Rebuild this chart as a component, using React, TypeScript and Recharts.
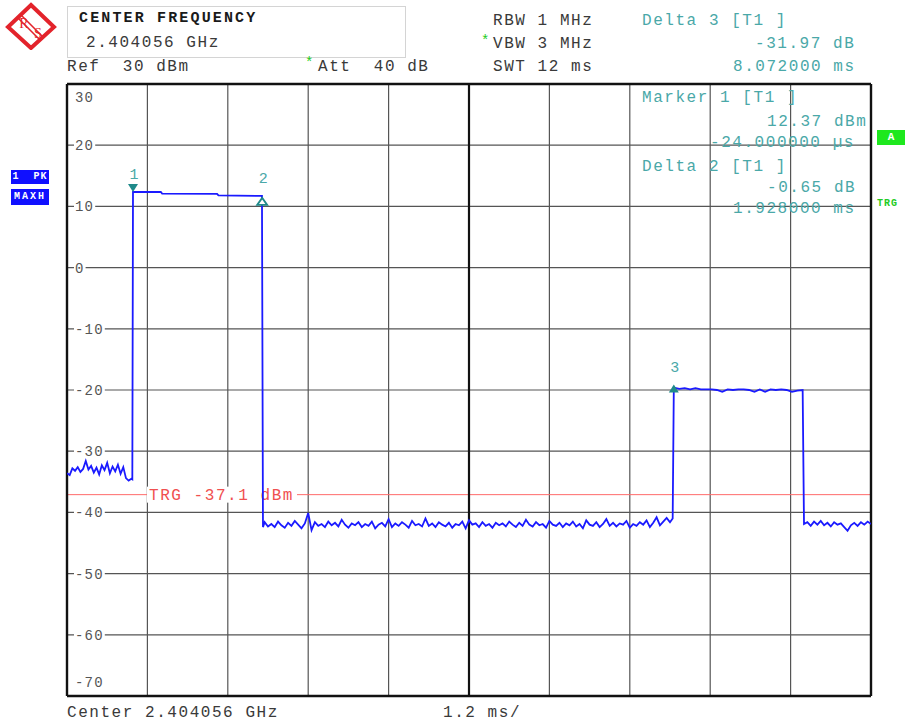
import React from 'react';
import { LineChart, Line, XAxis, YAxis, CartesianGrid, ReferenceLine, ReferenceDot } from 'recharts';

// ---- axes ----
const X_TICKS_MS = [0, 1.2, 2.4, 3.6, 4.8, 6, 7.2, 8.4, 9.6, 10.8, 12];
const Y_TICKS_DBM = [-70, -60, -50, -40, -30, -20, -10, 0, 10, 20, 30];

// ---- trace segments (time in ms, level in dBm) ----
const PRE_NOISE_START = 0;
const PRE_NOISE_STEP = 0.04;
const preTriggerNoise = [
  -33.6, -33.9, -32.8, -33.2, -32.6, -33.4, -32.9, -31.6, -33.0, -32.4,
  -33.5, -32.7, -33.8, -32.3, -33.1, -31.9, -33.6, -32.5, -33.3, -32.2,
  -33.7, -32.6, -34.4, -34.8, -34.5,
];

const burst1: [number, number][] = [
  [0.975, -34.6], [0.985, 12.37], [1.4, 12.35], [1.42, 12.1], [2.24, 12.05],
  [2.26, 11.8], [2.91, 11.72], [2.925, -42.4],
];

const FLOOR1_START = 2.95;
const FLOOR1_STEP = 0.05;
const floorNoise1 = [
  -41.6, -42.3, -41.9, -42.4, -41.5, -42.1, -42.5, -41.7, -42.2, -41.4,
  -42.0, -42.6, -41.8, -40.1, -42.9, -41.6, -42.2, -41.9, -42.4, -41.5,
  -42.1, -41.7, -42.3, -41.2, -42.0, -42.5, -41.8, -42.1, -41.6, -42.4,
  -41.9, -42.2, -41.5, -42.6, -42.0, -41.7, -42.3, -41.1, -42.4, -41.8,
  -42.2, -41.6, -42.0, -42.5, -41.4, -42.1, -41.9, -42.3, -41.0, -42.2,
  -41.8, -42.4, -41.6, -42.0, -42.3, -41.7, -42.5, -41.9, -42.1, -41.5,
  -42.6, -41.3, -42.0, -41.8, -42.4, -41.6, -42.2, -41.9, -42.5, -41.7,
  -42.1, -41.8, -42.3, -41.5, -42.0, -42.4, -41.7, -42.2, -41.2, -42.0,
  -42.3, -41.6, -42.1, -41.9, -42.5, -41.4, -42.0, -42.2, -41.7, -42.4,
  -41.8, -42.1, -41.5, -42.3, -41.9, -42.6, -41.3, -42.0, -42.2, -41.6,
  -42.4, -41.9, -41.1, -42.2, -41.7, -42.3, -41.8, -42.0, -41.4, -42.5,
  -41.9, -42.2, -41.6, -42.0, -41.3, -42.4, -41.7, -40.8, -42.1, -41.5,
  -40.9, -41.6,
];

const burst2Rise: [number, number][] = [[9.04, -41.0], [9.057, -19.6]];

const BURST2_START = 9.14;
const BURST2_STEP = 0.08;
const burst2Top = [
  -19.8, -19.7, -19.9, -19.7, -19.9, -19.9, -19.9, -20.0, -20.3, -19.9,
  -20.0, -19.9, -19.9, -20.0, -20.3, -19.9, -20.3, -19.9, -20.0, -19.9,
  -20.0, -20.3, -20.1, -20.0,
];

const FLOOR2_START = 11.0;
const FLOOR2_STEP = 0.05;
const floorNoise2 = [
  -41.9, -41.6, -42.2, -41.5, -42.0, -41.4, -42.1, -41.7, -42.3, -41.6,
  -42.0, -41.8, -42.4, -43.0, -42.1, -41.7, -42.2, -41.6, -42.0, -41.5,
  -41.9,
];

const TRIGGER_LEVEL = -37.1;

const markers = [
  { id: '1', t: 0.985, v: 12.37, kind: 'down' },
  { id: '2', t: 2.913, v: 11.72, kind: 'delta' },
  { id: '3', t: 9.057, v: -19.6, kind: 'up' },
];

const sampled = (start: number, step: number, vals: number[]) =>
  vals.map((v, i) => ({ t: +(start + i * step).toFixed(4), v }));
const pairs = (arr: [number, number][]) => arr.map(([t, v]) => ({ t, v }));

const trace = [
  ...sampled(PRE_NOISE_START, PRE_NOISE_STEP, preTriggerNoise),
  ...pairs(burst1),
  ...sampled(FLOOR1_START, FLOOR1_STEP, floorNoise1),
  ...pairs(burst2Rise),
  ...sampled(BURST2_START, BURST2_STEP, burst2Top),
  ...sampled(FLOOR2_START, FLOOR2_STEP, floorNoise2),
];

const MONO = '"Liberation Mono", "DejaVu Sans Mono", monospace';
const TEAL = '#4aa8a8';
const TEAL_DARK = '#1f8a8a';
const GRID = '#555';

const T = ({ x, y, children, color = '#3a3a3a', bold = false, size = 16, ls = 1.55 }: any) => (
  <div
    style={{
      position: 'absolute',
      left: x,
      top: y - 9,
      height: 18,
      lineHeight: '18px',
      fontFamily: MONO,
      fontSize: size,
      letterSpacing: ls,
      fontWeight: bold ? 'bold' : 'normal',
      color,
      whiteSpace: 'pre',
    }}
  >
    {children}
  </div>
);

const YTick = (props: any) => {
  const { x, y, payload } = props;
  const val = payload.value;
  let dy = 0;
  if (val === 30) dy = 13;
  if (val === -70) dy = -14;
  const label = String(val);
  const w = label.length * 9.6;
  return (
    <g>
      <rect x={x + 7} y={y + dy - 7} width={w + 2} height={14} fill="#fff" />
      <text
        x={x + 8}
        y={y + dy}
        dy="0.35em"
        fill="#555"
        fontFamily={MONO}
        fontSize={14}
        letterSpacing={1.2}
        textAnchor="start"
      >
        {label}
      </text>
    </g>
  );
};

const TrgLabel = (props: any) => {
  const vb = props.viewBox || {};
  const x = vb.x + 82;
  const y = vb.y;
  return (
    <g>
      <rect x={x - 2} y={y - 8} width={150} height={16} fill="#fff" />
      <text x={x} y={y} dy="0.35em" fill="#f05050" fontFamily={MONO} fontSize={16} letterSpacing={1.55}>
        TRG -37.1 dBm
      </text>
    </g>
  );
};

const markerShape = (kind: string, id: string) => (props: any) => {
  const { cx, cy } = props;
  let tri;
  if (kind === 'down') {
    tri = <polygon points={`${cx - 5},${cy - 8} ${cx + 5},${cy - 8} ${cx},${cy}`} fill={TEAL_DARK} />;
  } else if (kind === 'delta') {
    tri = (
      <polygon
        points={`${cx - 5},${cy + 9} ${cx + 5},${cy + 9} ${cx},${cy + 2}`}
        fill="#fff"
        stroke={TEAL_DARK}
        strokeWidth={1.8}
      />
    );
  } else {
    tri = <polygon points={`${cx - 5},${cy + 5} ${cx + 5},${cy + 5} ${cx},${cy - 3}`} fill={TEAL_DARK} />;
  }
  return (
    <g>
      {tri}
      <text
        x={cx + 1}
        y={cy - (kind === 'up' ? 21 : 18)}
        textAnchor="middle"
        dy="0.35em"
        fill={TEAL}
        fontFamily={MONO}
        fontSize={15}
      >
        {id}
      </text>
    </g>
  );
};

const Logo = () => (
  <svg width={52} height={48} style={{ position: 'absolute', left: 5, top: 2 }}>
    <polygon points="26,3 49,25 26,46 3,25" fill="#fff" stroke="#e3232b" strokeWidth={4} />
    <line x1={16} y1={13} x2={38} y2={35} stroke="#e3232b" strokeWidth={1.6} />
    <line x1={13} y1={16} x2={35} y2={38} stroke="#e3232b" strokeWidth={1.6} />
    <text x={19} y={26} fill="#e3232b" fontFamily="Liberation Serif" fontSize={14} textAnchor="middle">R</text>
    <text x={33} y={36} fill="#e3232b" fontFamily="Liberation Serif" fontSize={14} textAnchor="middle">S</text>
  </svg>
);

export default function App() {
  return (
    <div style={{ position: 'absolute', left: 0, top: 0, width: 910, height: 722, background: '#fff' }}>
      <LineChart
        width={910}
        height={722}
        data={trace}
        margin={{ top: 84, right: 39, bottom: 26, left: 7 }}
      >
        <XAxis
          dataKey="t"
          type="number"
          domain={[0, 12]}
          ticks={X_TICKS_MS}
          hide
          allowDataOverflow
        />
        <CartesianGrid stroke={GRID} strokeWidth={1.2} />
        <YAxis
          type="number"
          domain={[-70, 30]}
          ticks={Y_TICKS_DBM}
          width={60}
          axisLine={false}
          tickLine={false}
          tickSize={0}
          tickMargin={0}
          tick={YTick}
          interval={0}
          allowDataOverflow
        />
        <ReferenceLine y={TRIGGER_LEVEL} stroke="#ff6a6a" strokeWidth={1} label={<TrgLabel />} />
        <ReferenceLine x={6} stroke="#111" strokeWidth={2.2} />
        <ReferenceLine x={0} stroke="#111" strokeWidth={2.4} />
        <ReferenceLine x={12} stroke="#111" strokeWidth={2.4} />
        <ReferenceLine y={30} stroke="#111" strokeWidth={2.4} />
        <ReferenceLine y={-70} stroke="#111" strokeWidth={2.4} />
        <Line
          type="linear"
          dataKey="v"
          stroke="#1a1aff"
          strokeWidth={1.8}
          dot={false}
          isAnimationActive={false}
        />
        {markers.map((m) => (
          <ReferenceDot key={m.id} x={m.t} y={m.v} r={5} shape={markerShape(m.kind, m.id)} />
        ))}
      </LineChart>

      <Logo />
      <div
        style={{
          position: 'absolute',
          left: 67,
          top: 6,
          width: 337,
          height: 50,
          border: '1px solid #d4d4d4',
        }}
      />
      <T x={79} y={19} bold color="#1a1a1a" size={15} ls={2.15}>CENTER FREQUENCY</T>
      <T x={86} y={43}>2.404056 GHz</T>
      <T x={67} y={67}>Ref  30 dBm</T>
      <T x={305} y={63} color="#22cc22" size={14} ls={0}>*</T>
      <T x={318} y={67}>Att  40 dB</T>

      <T x={493} y={21}>RBW 1 MHz</T>
      <T x={481} y={41} color="#22cc22" size={14} ls={0}>*</T>
      <T x={493} y={44}>VBW 3 MHz</T>
      <T x={493} y={67}>SWT 12 ms</T>

      <T x={642} y={21} color={TEAL}>Delta 3 [T1 ]</T>
      <T x={755} y={44} color={TEAL}>-31.97 dB</T>
      <T x={733} y={67} color={TEAL}>8.072000 ms</T>

      <T x={642} y={98} color={TEAL}>Marker 1 [T1 ]</T>
      <T x={767} y={122} color={TEAL}>12.37 dBm</T>
      <T x={710} y={143} color={TEAL}>-24.000000 µs</T>
      <T x={642} y={167} color={TEAL}>Delta 2 [T1 ]</T>
      <T x={767} y={188} color={TEAL}>-0.65 dB</T>
      <T x={733} y={209} color={TEAL}>1.928000 ms</T>

      <div
        style={{
          position: 'absolute', left: 11, top: 170, width: 38, height: 14, background: '#1010ff',
          color: '#fff', fontFamily: MONO, fontWeight: 'bold', fontSize: 10, lineHeight: '14px',
          textAlign: 'center', whiteSpace: 'pre', letterSpacing: 1,
        }}
      >
        1  PK
      </div>
      <div
        style={{
          position: 'absolute', left: 11, top: 189, width: 38, height: 16, background: '#1010ff',
          color: '#fff', fontFamily: MONO, fontWeight: 'bold', fontSize: 10, lineHeight: '16px',
          textAlign: 'center', whiteSpace: 'pre', letterSpacing: 2,
        }}
      >
        MAXH
      </div>
      <div
        style={{
          position: 'absolute', left: 877, top: 130, width: 28, height: 15, background: '#1ee81e',
          color: '#fff', fontFamily: MONO, fontWeight: 'bold', fontSize: 11, lineHeight: '15px',
          textAlign: 'center',
        }}
      >
        A
      </div>
      <T x={877} y={204} color="#22cc22" bold size={10} ls={1}>TRG</T>

      <T x={67} y={713}>Center 2.404056 GHz</T>
      <T x={443} y={713}>1.2 ms/</T>
    </div>
  );
}
